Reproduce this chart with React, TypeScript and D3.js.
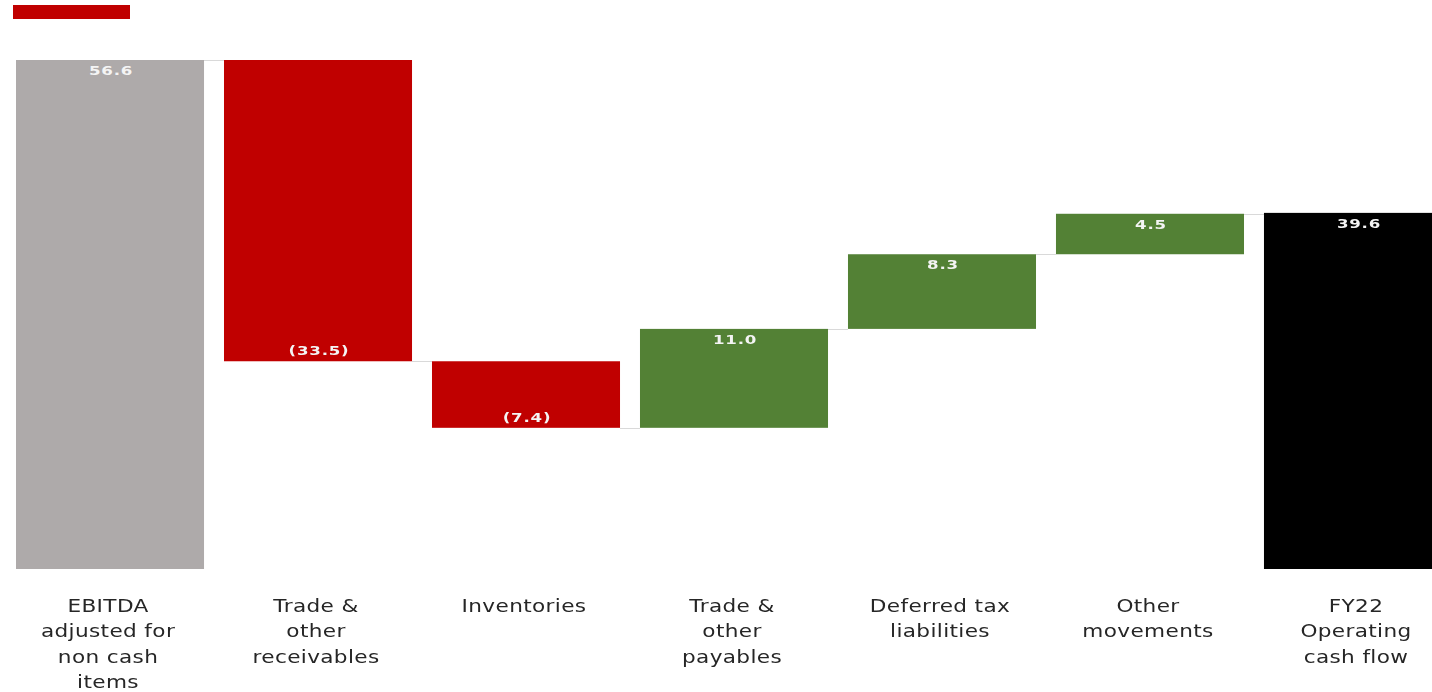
import React from "react";
import * as d3 from "d3";

const categories = ["ebitda", "receivables", "inventories", "payables", "deferred", "other", "fy22"];
const labelLines = [
  ["EBITDA", "adjusted for", "non cash", "items"],
  ["Trade &", "other", "receivables"],
  ["Inventories"],
  ["Trade &", "other", "payables"],
  ["Deferred tax", "liabilities"],
  ["Other", "movements"],
  ["FY22", "Operating", "cash flow"],
];
const values = [56.6, -33.5, -7.4, 11.0, 8.3, 4.5, 39.6];
const kinds = ["start", "delta", "delta", "delta", "delta", "delta", "total"];
const valueLabels = ["56.6", "(33.5)", "(7.4)", "11.0", "8.3", "4.5", "39.6"];

export default function App() {
  const W = 1432, H = 692;
  const x = d3.scaleBand<string>().domain(categories).range([16, 1452]).paddingInner(0.096).paddingOuter(0);
  const y = d3.scaleLinear().domain([0, 56.6]).range([569, 60]);

  let running = 0;
  const bars = values.map((v, i) => {
    let y0: number, y1: number;
    if (kinds[i] === "delta") {
      y0 = running;
      y1 = running + v;
      running = y1;
    } else {
      y0 = 0;
      y1 = v;
      running = v;
    }
    const top = Math.max(y0, y1), bot = Math.min(y0, y1);
    let color = "#AEAAAA";
    if (kinds[i] === "total") color = "#000000";
    else if (kinds[i] === "delta") color = v < 0 ? "#C00000" : "#538135";
    return { cat: categories[i], top, bot, end: running, v, color, i };
  });

  return (
    <svg width={W} height={H} style={{ position: "fixed", left: 0, top: 0 }}>
      <rect x={13} y={5} width={117} height={14} fill="#C00000" />
      {bars.slice(0, -1).map((b, i) => {
        const next = bars[i + 1];
        const yy = Math.round(y(b.end)) + 0.5;
        return (
          <line key={"c" + i} x1={x(b.cat)! + x.bandwidth()} x2={x(next.cat)!} y1={yy} y2={yy} stroke="#D9D9D9" strokeWidth={1} />
        );
      })}
      {bars.map((b) => (
        <rect key={b.cat} x={x(b.cat)} y={y(b.top)} width={x.bandwidth()} height={y(b.bot) - y(b.top)} fill={b.color} />
      ))}
      {bars.map((b) => {
        const cx = x(b.cat)! + x.bandwidth() / 2 + 1;
        const ty = b.v < 0 ? y(b.bot) - 6 : y(b.top) + 15;
        return (
          <g key={"v" + b.cat} transform={`translate(${cx},${ty}) scale(1.28,1)`}>
            <text x={0} y={0} textAnchor="middle" fill="#F4F4F4" fontFamily="DejaVu Sans" fontWeight="bold" fontSize={13} letterSpacing={0.6}>
              {valueLabels[b.i]}
            </text>
          </g>
        );
      })}
      {bars.map((b) => {
        const cx = x(b.cat)! + x.bandwidth() / 2 - 2;
        return (
          <g key={"l" + b.cat} transform={`translate(${cx},0) scale(1.2,1)`}>
            <text x={0} textAnchor="middle" fill="#262626" fontFamily="DejaVu Sans" fontSize={18} letterSpacing={0.3}>
              {labelLines[b.i].map((t, k) => (
                <tspan key={k} x={0} y={612 + k * 25.5}>{t}</tspan>
              ))}
            </text>
          </g>
        );
      })}
    </svg>
  );
}
